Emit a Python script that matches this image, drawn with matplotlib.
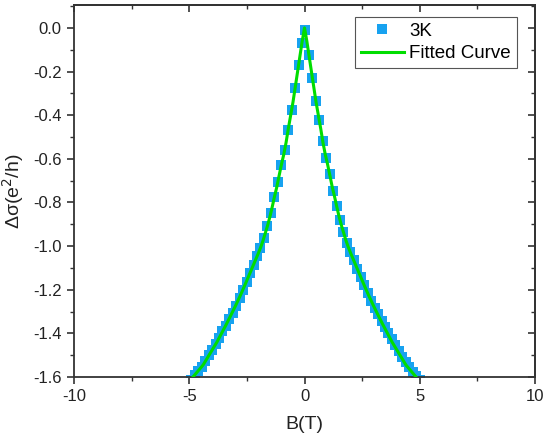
import matplotlib
matplotlib.use("Agg")
import matplotlib.pyplot as plt
from matplotlib.ticker import MultipleLocator, FormatStrFormatter

plt.rcParams['font.family'] = ['Liberation Sans', 'DejaVu Sans']
plt.rcParams['axes.unicode_minus'] = False

# Measured data (3K)
B_data = [-4.91, -4.76, -4.61, -4.46, -4.31, -4.16, -4.01, -3.86, -3.71, -3.56,
          -3.41, -3.26, -3.11, -2.96, -2.81, -2.66, -2.51, -2.36, -2.21, -2.06,
          -1.91, -1.76, -1.61, -1.46, -1.31, -1.16, -1.01, -0.86, -0.71, -0.56,
          -0.41, -0.26, -0.11, 0.04, 0.19, 0.34, 0.49, 0.64, 0.79, 0.94,
          1.09, 1.24, 1.39, 1.54, 1.69, 1.84, 1.99, 2.14, 2.29, 2.44,
          2.59, 2.74, 2.89, 3.04, 3.19, 3.34, 3.49, 3.64, 3.79, 3.94,
          4.09, 4.24, 4.39, 4.54, 4.69, 4.84, 4.99]
dsigma_data = [-1.612, -1.593, -1.574, -1.552, -1.527, -1.501, -1.475, -1.449, -1.420, -1.391,
               -1.365, -1.335, -1.305, -1.274, -1.240, -1.202, -1.163, -1.124, -1.085, -1.046,
               -1.008, -0.961, -0.909, -0.847, -0.775, -0.708, -0.630, -0.558, -0.467, -0.376,
               -0.277, -0.172, -0.067, -0.008, -0.123, -0.228, -0.333, -0.424, -0.519, -0.598,
               -0.670, -0.746, -0.815, -0.881, -0.937, -0.987, -1.028, -1.065, -1.103, -1.140,
               -1.178, -1.215, -1.250, -1.283, -1.313, -1.343, -1.371, -1.398, -1.428, -1.455,
               -1.481, -1.507, -1.533, -1.556, -1.576, -1.595, -1.614]

# Fitted curve
B_fit = [-5.0, -4.8, -4.6, -4.4, -4.2, -4.0, -3.8, -3.6, -3.4, -3.2, -3.0, -2.8, -2.6,
         -2.4, -2.2, -2.0, -1.9, -1.8, -1.7, -1.6, -1.5, -1.4, -1.3, -1.2, -1.1, -1.0,
         -0.9, -0.8, -0.7, -0.6, -0.5, -0.4, -0.3, -0.2, -0.1, 0.0,
         0.1, 0.2, 0.3, 0.4, 0.5, 0.6, 0.7, 0.8, 0.9, 1.0, 1.1, 1.2, 1.3, 1.4, 1.5,
         1.6, 1.7, 1.8, 1.9, 2.0, 2.2, 2.4, 2.6, 2.8, 3.0, 3.2, 3.4, 3.6, 3.8, 4.0,
         4.2, 4.4, 4.6, 4.8, 5.0]
dsigma_fit = [-1.620, -1.595, -1.570, -1.545, -1.510, -1.475, -1.440, -1.400, -1.360, -1.318,
              -1.275, -1.230, -1.182, -1.132, -1.082, -1.032, -1.005, -0.975, -0.940, -0.905,
              -0.865, -0.820, -0.772, -0.728, -0.676, -0.625, -0.580, -0.525, -0.460, -0.400,
              -0.340, -0.270, -0.200, -0.130, -0.060, 0.000,
              -0.060, -0.130, -0.200, -0.270, -0.340, -0.400, -0.460, -0.525, -0.580, -0.625,
              -0.676, -0.728, -0.772, -0.820, -0.865, -0.905, -0.940, -0.975, -1.005, -1.032,
              -1.082, -1.132, -1.182, -1.230, -1.275, -1.318, -1.360, -1.400, -1.440, -1.475,
              -1.510, -1.545, -1.570, -1.595, -1.620]

fig = plt.figure(figsize=(5.45, 4.43), dpi=100)
ax = fig.add_axes([0.1358, 0.149, 0.8459, 0.8397])

ax.plot(B_data, dsigma_data, linestyle='none', marker='s', markersize=6.5,
        color='#17A2F0', markeredgewidth=0, label='3K', zorder=2)
ax.plot(B_fit, dsigma_fit, color='#00DD00', linewidth=2.2, label='Fitted Curve', zorder=3)

ax.set_xlim(-10, 10)
ax.set_ylim(-1.6, 0.105)
ax.xaxis.set_major_locator(MultipleLocator(5))
ax.xaxis.set_minor_locator(MultipleLocator(2.5))
ax.yaxis.set_major_locator(MultipleLocator(0.2))
ax.yaxis.set_minor_locator(MultipleLocator(0.1))
ax.yaxis.set_major_formatter(FormatStrFormatter('%.1f'))

spine_color = '#333333'
for s in ax.spines.values():
    s.set_linewidth(1.3)
    s.set_color(spine_color)

ax.tick_params(which='major', direction='out', length=5, width=1.2, colors=spine_color,
               labelsize=12, labelcolor='#222222', top=False, right=False, pad=4)
ax.tick_params(which='minor', direction='out', length=3, width=1.0, colors=spine_color,
               top=False, right=False)

secx = ax.secondary_xaxis('top')
secx.xaxis.set_major_locator(MultipleLocator(5))
secx.xaxis.set_minor_locator(MultipleLocator(2.5))
secx.tick_params(which='major', direction='in', length=5, width=1.2, colors=spine_color, labeltop=False)
secx.tick_params(which='minor', direction='in', length=3, width=1.0, colors=spine_color)
secx.spines['top'].set_linewidth(1.3)
secx.spines['top'].set_color(spine_color)

secy = ax.secondary_yaxis('right')
secy.yaxis.set_major_locator(MultipleLocator(0.2))
secy.yaxis.set_minor_locator(MultipleLocator(0.1))
secy.tick_params(which='major', direction='in', length=5, width=1.2, colors=spine_color, labelright=False)
secy.tick_params(which='minor', direction='in', length=3, width=1.0, colors=spine_color)
secy.spines['right'].set_linewidth(1.3)
secy.spines['right'].set_color(spine_color)

ax.set_xlabel('B(T)', fontsize=14, color='#222222', labelpad=8)
ax.set_ylabel('Δσ(e$^2$/h)', fontsize=14, color='#222222', labelpad=5)

leg = ax.legend(loc='upper right', bbox_to_anchor=(0.96, 0.968), fontsize=13.5,
                frameon=True, fancybox=False, edgecolor='#555555', framealpha=1,
                handlelength=2.3, handletextpad=0.3, borderpad=0.3, labelspacing=0.3,
                borderaxespad=0.0, markerscale=1.0, numpoints=1)
leg.get_frame().set_linewidth(0.8)

fig.savefig('out.png', dpi=100)
